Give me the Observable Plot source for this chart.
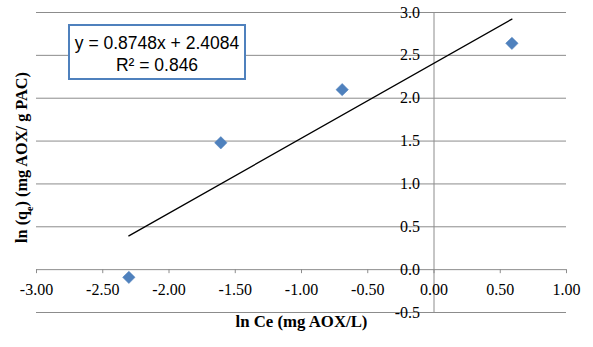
<!DOCTYPE html>
<html>
<head>
<meta charset="utf-8">
<script src="https://cdn.jsdelivr.net/npm/d3@7"></script>
<script src="https://cdn.jsdelivr.net/npm/@observablehq/plot@0.6"></script>
<style>
  html, body { margin: 0; padding: 0; background: #fff; }
  #wrap { position: relative; width: 593px; height: 347px; }
  #eq {
    position: absolute; left: 68px; top: 24px; width: 178px; height: 56px;
    box-sizing: border-box; border: 2px solid #4f81bd; background: #fff;
    font-family: "Liberation Sans", Arial, sans-serif; font-size: 17.5px; color: #000;
    text-align: center; line-height: 22px; padding-top: 6px;
  }
</style>
</head>
<body>
<div id="wrap"><div id="eq">y = 0.8748x + 2.4084<br>R² = 0.846</div></div>
<script>
const xValues = [-2.303, -1.609, -0.693, 0.588];
const yValues = [-0.09, 1.48, 2.10, 2.64];
const slope = 0.8748;
const intercept = 2.4084;
const xTicks = [-3, -2.5, -2, -1.5, -1, -0.5, 0, 0.5, 1];
const yTicks = [-0.5, 0, 0.5, 1, 1.5, 2, 2.5, 3];
const xTitle = "ln Ce (mg AOX/L)";
const yTitle = "ln (qe) (mg AOX/ g PAC)";

const points = xValues.map((x, i) => ({x, y: yValues[i]}));
const xMin = d3.min(xValues), xMax = d3.max(xValues);
const trend = [xMin, xMax].map(x => ({x, y: slope * x + intercept}));

const grid = "#8c8c8c";
const chart = Plot.plot({
  width: 593,
  height: 347,
  marginLeft: 36,
  marginRight: 27,
  marginTop: 12,
  marginBottom: 35,
  x: {domain: [-3, 1], axis: null},
  y: {domain: [-0.5, 3], axis: null},
  style: {fontFamily: "'Liberation Serif', 'Times New Roman', serif", fontSize: "16px", background: "#fff"},
  marks: [
    Plot.ruleY(yTicks, {y: d => d, stroke: grid, strokeWidth: 1}),
    Plot.ruleX([0], {x: d => d, stroke: grid, strokeWidth: 1}),
    Plot.ruleX(xTicks, {x: d => d, y1: () => 0, y2: () => 0, insetBottom: -4, stroke: grid, strokeWidth: 1}),
    Plot.text(xTicks, {x: d => d, y: () => 0, text: d => d.toFixed(2), dy: 20, fill: "#000", fontSize: 16}),
    Plot.text(yTicks, {x: () => 0, y: d => d, text: d => d.toFixed(1), dx: -14, textAnchor: "end", fill: "#000", fontSize: 16}),
    Plot.line(trend, {x: "x", y: "y", stroke: "#000", strokeWidth: 1.3}),
    Plot.dot(points, {x: "x", y: "y", symbol: "diamond2", r: 5.6, fill: "#4f81bd", stroke: "#4f81bd", strokeWidth: 0.5}),
    Plot.text([xTitle], {frameAnchor: "bottom", text: d => d, dy: 14, textAnchor: "middle", fontWeight: "bold", fontSize: 16.8, fill: "#000", className: "xtitle"}),
    Plot.text([yTitle], {frameAnchor: "left", text: d => d, dx: -15, dy: -5, rotate: -90, textAnchor: "middle", fontWeight: "bold", fontSize: 16.3, fill: "#000", className: "ytitle"})
  ]
});
document.getElementById("wrap").prepend(chart);

// subscript "e" in the y title
const yt = d3.select(chart).select("g.ytitle text");
if (!yt.empty()) {
  yt.text(null);
  yt.append("tspan").text("ln (q");
  yt.append("tspan").attr("baseline-shift", "sub").attr("font-size", "10px").text("e");
  yt.append("tspan").text(") (mg AOX/ g PAC)");
}
</script>
</body>
</html>
